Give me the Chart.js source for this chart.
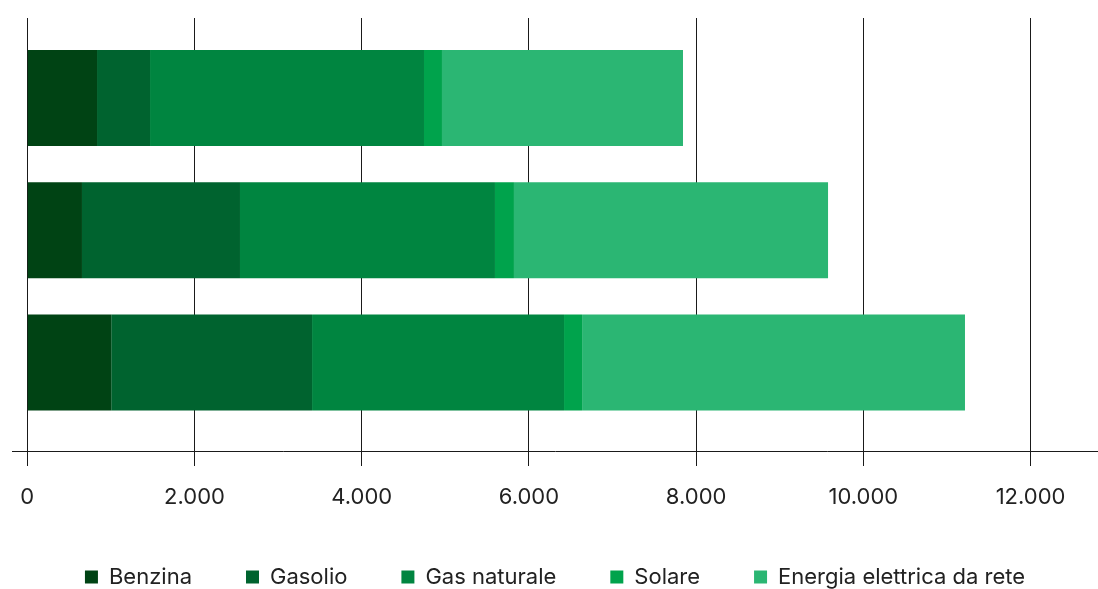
<!DOCTYPE html>
<html lang="it">
<head>
<meta charset="utf-8">
<title>Consumi energetici per fonte</title>
<script src="https://cdn.jsdelivr.net/npm/chart.js@4.4.1/dist/chart.umd.min.js"></script>
<style>
  html, body { margin: 0; padding: 0; background: #ffffff; }
  #wrap { width: 1098px; height: 589px; position: relative; }
</style>
</head>
<body>
<div id="wrap"><canvas id="chart"></canvas></div>
<script>
// Row positions (top to bottom) on the index axis
const rows = [0, 1, 2];

// Series values per row
const benzina      = [834, 654, 1004];
const gasolio      = [634, 1890, 2402];
const gasNaturale  = [3277, 3050, 3014];
const solare       = [215, 227, 216];
const energiaRete  = [2883, 3757, 4580];

// Value axis tick marks
const tickValues = [0, 2000, 4000, 6000, 8000, 10000, 12000];

const seriesNames  = ['Benzina', 'Gasolio', 'Gas naturale', 'Solare', 'Energia elettrica da rete'];
const seriesValues = [benzina, gasolio, gasNaturale, solare, energiaRete];
const seriesColors = ['#004314', '#00632f', '#008540', '#00a34c', '#2bb673'];

// Thousands separator with a dot: 2000 -> "2.000"
function formatThousands(v) {
  return String(v).replace(/\B(?=(\d{3})+(?!\d))/g, '.');
}

const datasets = seriesNames.map((name, i) => ({
  label: name,
  data: rows.map((r, j) => ({ x: seriesValues[i][j], y: r })),
  backgroundColor: seriesColors[i],
  borderWidth: 0,
  categoryPercentage: 1,
  barPercentage: 0.726
}));

// Pull the legend row a little closer to the axis labels
const legendLift = {
  id: 'legendLift',
  afterLayout(chart) {
    const lg = chart.legend;
    if (lg) { lg.top -= 16; lg.height += 16; }
  }
};

Chart.defaults.font.family = 'Inter, "Noto Sans", sans-serif';
Chart.defaults.color = '#222222';

new Chart(document.getElementById('chart'), {
  type: 'bar',
  data: { datasets },
  plugins: [legendLift],
  options: {
    indexAxis: 'y',
    responsive: true,
    maintainAspectRatio: false,
    animation: false,
    layout: { padding: { top: 18, left: 12, right: 0, bottom: 0 } },
    scales: {
      x: {
        type: 'linear',
        stacked: true,
        bounds: 'data',
        min: -183,
        max: 12807,
        z: 1,
        afterBuildTicks: (scale) => {
          scale.ticks = tickValues.map(v => ({ value: v }));
        },
        grid: {
          color: '#1a1a1a',
          lineWidth: 1,
          drawTicks: true,
          tickLength: 15,
          tickColor: '#1a1a1a'
        },
        border: { display: true, color: '#1a1a1a', width: 1 },
        ticks: {
          padding: 16,
          color: '#222222',
          font: { size: 22, lineHeight: '30px' },
          maxRotation: 0,
          callback: (v) => formatThousands(v)
        }
      },
      y: {
        type: 'linear',
        stacked: true,
        reverse: true,
        offset: false,
        bounds: 'data',
        min: -0.605,
        max: 2.669,
        display: true,
        afterBuildTicks: (scale) => {
          scale.ticks = rows.map(v => ({ value: v }));
        },
        grid: { display: false, drawTicks: false, offset: false },
        border: { display: false },
        ticks: { display: false }
      }
    },
    plugins: {
      tooltip: { enabled: false },
      legend: {
        position: 'bottom',
        align: 'center',
        maxHeight: 61,
        labels: {
          boxWidth: 13,
          boxHeight: 13,
          padding: 54,
          color: '#222222',
          font: { size: 22 }
        }
      }
    }
  }
});
</script>
</body>
</html>
